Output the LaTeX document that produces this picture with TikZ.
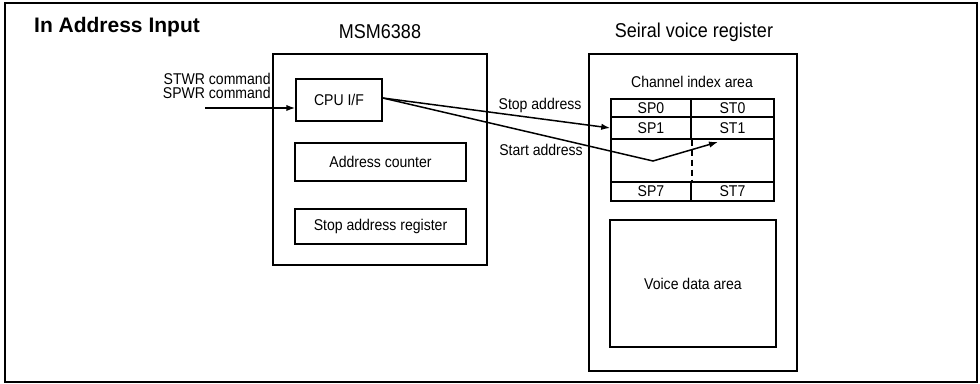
\documentclass[tikz,border=0pt]{standalone}
\usepackage{fontspec}
\setmainfont{Liberation Sans}
\newfontfamily\condfont{Liberation Sans}[FakeStretch=0.9]
\usetikzlibrary{arrows.meta}
\tikzset{
  px/.style={x=0.5pt,y=-0.5pt},
  box/.style={draw,line width=0.75pt,inner sep=0pt,font=\condfont\fontsize{7.8}{8}\selectfont},
  lbl/.style={inner sep=0pt,font=\condfont\fontsize{7.8}{8}\selectfont},
  ttl/.style={inner sep=0pt,font=\condfont\fontsize{10}{11}\selectfont},
  arr/.style={line width=0.75pt,-{Latex[length=4.5pt,width=3.2pt]}},
}
\begin{document}
\begin{tikzpicture}[px]
\useasboundingbox (0,0) rectangle (980,384);
\draw[line width=0.9pt] (5,3) rectangle (977,382);
% titles
\node[inner sep=0pt,font=\fontsize{10.5}{12}\selectfont\bfseries] (title) at (117,27) {In Address Input};
\node[ttl] (msmtitle) at (380,32) {MSM6388};
\node[ttl] (svrtitle) at (694,32) {Seiral voice register};
% MSM6388
\node[box,minimum width=107pt,minimum height=105.5pt] (msm) at (380,159.5) {};
\node[box,minimum width=43pt,minimum height=21pt] (cpu) at (339,100) {CPU I/F};
\node[box,minimum width=85.5pt,minimum height=19pt] (cnt) at (380.5,162) {Address counter};
\node[box,minimum width=85.5pt,minimum height=17.5pt] (sar) at (380.5,226.5) {Stop address register};
% input
\node[lbl,anchor=east,align=right,font=\condfont\fontsize{7.8}{7.1}\selectfont] (cmd) at (271,86) {STWR command\\SPWR command};
\coordinate (in) at (205,108);
\draw[arr] (in) -- (in -| cpu.west);
% serial voice register
\node[box,minimum width=104pt,minimum height=158.5pt] (svr) at (693,212.5) {};
\node[lbl] (cia) at (692,82) {Channel index area};
\node[box,minimum width=40pt,minimum height=9pt] (sp0) at (651,108) {SP0};
\node[box,minimum width=41.5pt,minimum height=9pt] (st0) at (732.5,108) {ST0};
\node[box,minimum width=40pt,minimum height=11pt] (sp1) at (651,128) {SP1};
\node[box,minimum width=41.5pt,minimum height=11pt] (st1) at (732.5,128) {ST1};
\node[box,minimum width=81.5pt,minimum height=21.5pt] (gap) at (692.5,160.5) {};
\draw[line width=0.75pt,dash pattern=on 3pt off 2pt] (sp1.south east) -- (gap.south -| sp1.east);
\node[box,minimum width=40pt,minimum height=9.5pt] (sp7) at (651,191.5) {SP7};
\node[box,minimum width=41.5pt,minimum height=9.5pt] (st7) at (732.5,191.5) {ST7};
\node[box,minimum width=83pt,minimum height=63.5pt] (vda) at (693,283.5) {Voice data area};
% address arrows
\draw[arr] ([yshift=1pt]cpu.east) -- (sp1.west);
\coordinate (bend) at (653,161);
\coordinate (tip) at (718,142);
\draw[arr] ([yshift=1pt]cpu.east) -- (bend) -- (tip);
\node[lbl] (stoplbl) at (540,105) {Stop address};
\node[lbl] (startlbl) at (541,150) {Start address};
\end{tikzpicture}
\end{document}
